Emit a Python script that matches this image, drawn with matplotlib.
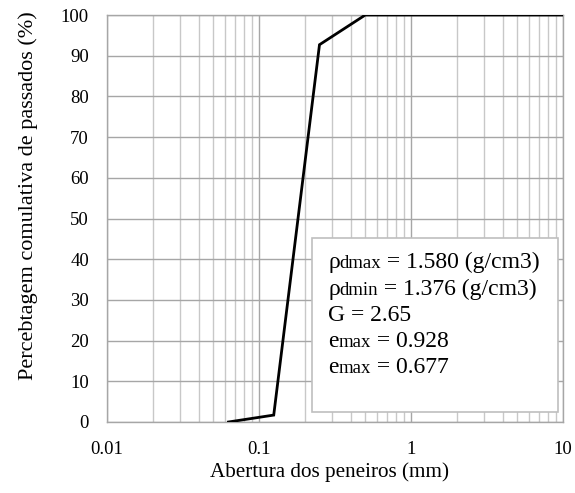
import matplotlib
matplotlib.use("Agg")
import matplotlib.pyplot as plt
from matplotlib.ticker import LogLocator, FixedLocator, NullFormatter
from matplotlib.offsetbox import TextArea, HPacker, VPacker, AnnotationBbox
from matplotlib.patches import Rectangle

plt.rcParams['font.family'] = ['Liberation Serif', 'DejaVu Serif']

# Data
sieve_mm = [0.063, 0.125, 0.25, 0.5, 10]
passing_pct = [0.0, 1.7, 92.7, 100.0, 100.0]

x_ticks = [0.01, 0.1, 1, 10]
x_tick_labels = ['0.01', '0.1', '1', '10']
y_ticks = list(range(0, 101, 10))

box_lines = [
    ('ρ', 'dmax', ' = 1.580 (g/cm3)'),
    ('ρ', 'dmin', ' = 1.376 (g/cm3)'),
    ('G = 2.65', '', ''),
    ('e', 'max', ' = 0.928'),
    ('e', 'max', ' = 0.677'),
]

W, H = 575, 493
fig = plt.figure(figsize=(W / 100, H / 100), dpi=100)
left, right, top, bottom = 107, 563, 15, 422
ax = fig.add_axes([left / W, 1 - bottom / H, (right - left) / W, (bottom - top) / H])

ax.set_xscale('log')
ax.set_xlim(0.01, 10)
ax.set_ylim(0, 100)

ax.xaxis.set_major_locator(FixedLocator(x_ticks))
ax.set_xticklabels(x_tick_labels)
ax.xaxis.set_minor_locator(LogLocator(base=10, subs=range(2, 10)))
ax.xaxis.set_minor_formatter(NullFormatter())
ax.set_yticks(y_ticks)

ax.grid(True, which='major', color='#a6a6a6', linewidth=1.0)
ax.grid(True, which='minor', axis='x', color='#c8c8c8', linewidth=1.0)
ax.set_axisbelow(True)
for s in ax.spines.values():
    s.set_color('#a6a6a6')
    s.set_linewidth(1.0)
ax.tick_params(which='both', length=0, labelsize=13.5, colors='black')
ax.tick_params(axis='x', pad=14)
ax.tick_params(axis='y', pad=13)

ax.plot(sieve_mm, passing_pct, color='black', linewidth=2.0, zorder=3,
        solid_joinstyle='miter')

ax_w, ax_h = right - left, bottom - top
ax.set_xlabel('Abertura dos peneiros (mm)', fontsize=15.2)
ax.set_ylabel('Percebtagem comulativa de passados (%)', fontsize=16)
ax.xaxis.set_label_coords((329 - left) / ax_w, (bottom - 472) / ax_h)
ax.yaxis.set_label_coords((28 - left) / ax_w, (bottom - 196) / ax_h)
ax.xaxis.label.set_va('center')
ax.yaxis.label.set_va('center')

# Text box
bx0, by0, bx1, by1 = 312, 238, 558, 412
rect = Rectangle(((bx0 - left) / ax_w, (bottom - by1) / ax_h),
                 (bx1 - bx0) / ax_w, (by1 - by0) / ax_h,
                 transform=ax.transAxes, facecolor='white',
                 edgecolor='#bfbfbf', linewidth=1.2, zorder=4)
ax.add_patch(rect)

rows = []
for main, sub, rest in box_lines:
    parts = [TextArea(main, textprops=dict(fontsize=17, family='Liberation Serif'))]
    if sub:
        parts.append(TextArea(sub, textprops=dict(fontsize=13.5, family='Liberation Serif')))
    if rest:
        parts.append(TextArea(rest, textprops=dict(fontsize=17, family='Liberation Serif')))
    rows.append(HPacker(children=parts, align='baseline', pad=0, sep=0))
vp = VPacker(children=rows, align='left', pad=0, sep=3.8)
ab = AnnotationBbox(vp, ((328 - left) / ax_w, (bottom - 252) / ax_h),
                    xycoords='axes fraction', box_alignment=(0, 1),
                    frameon=False, pad=0, zorder=5)
ax.add_artist(ab)

fig.savefig('out.png', dpi=100)
